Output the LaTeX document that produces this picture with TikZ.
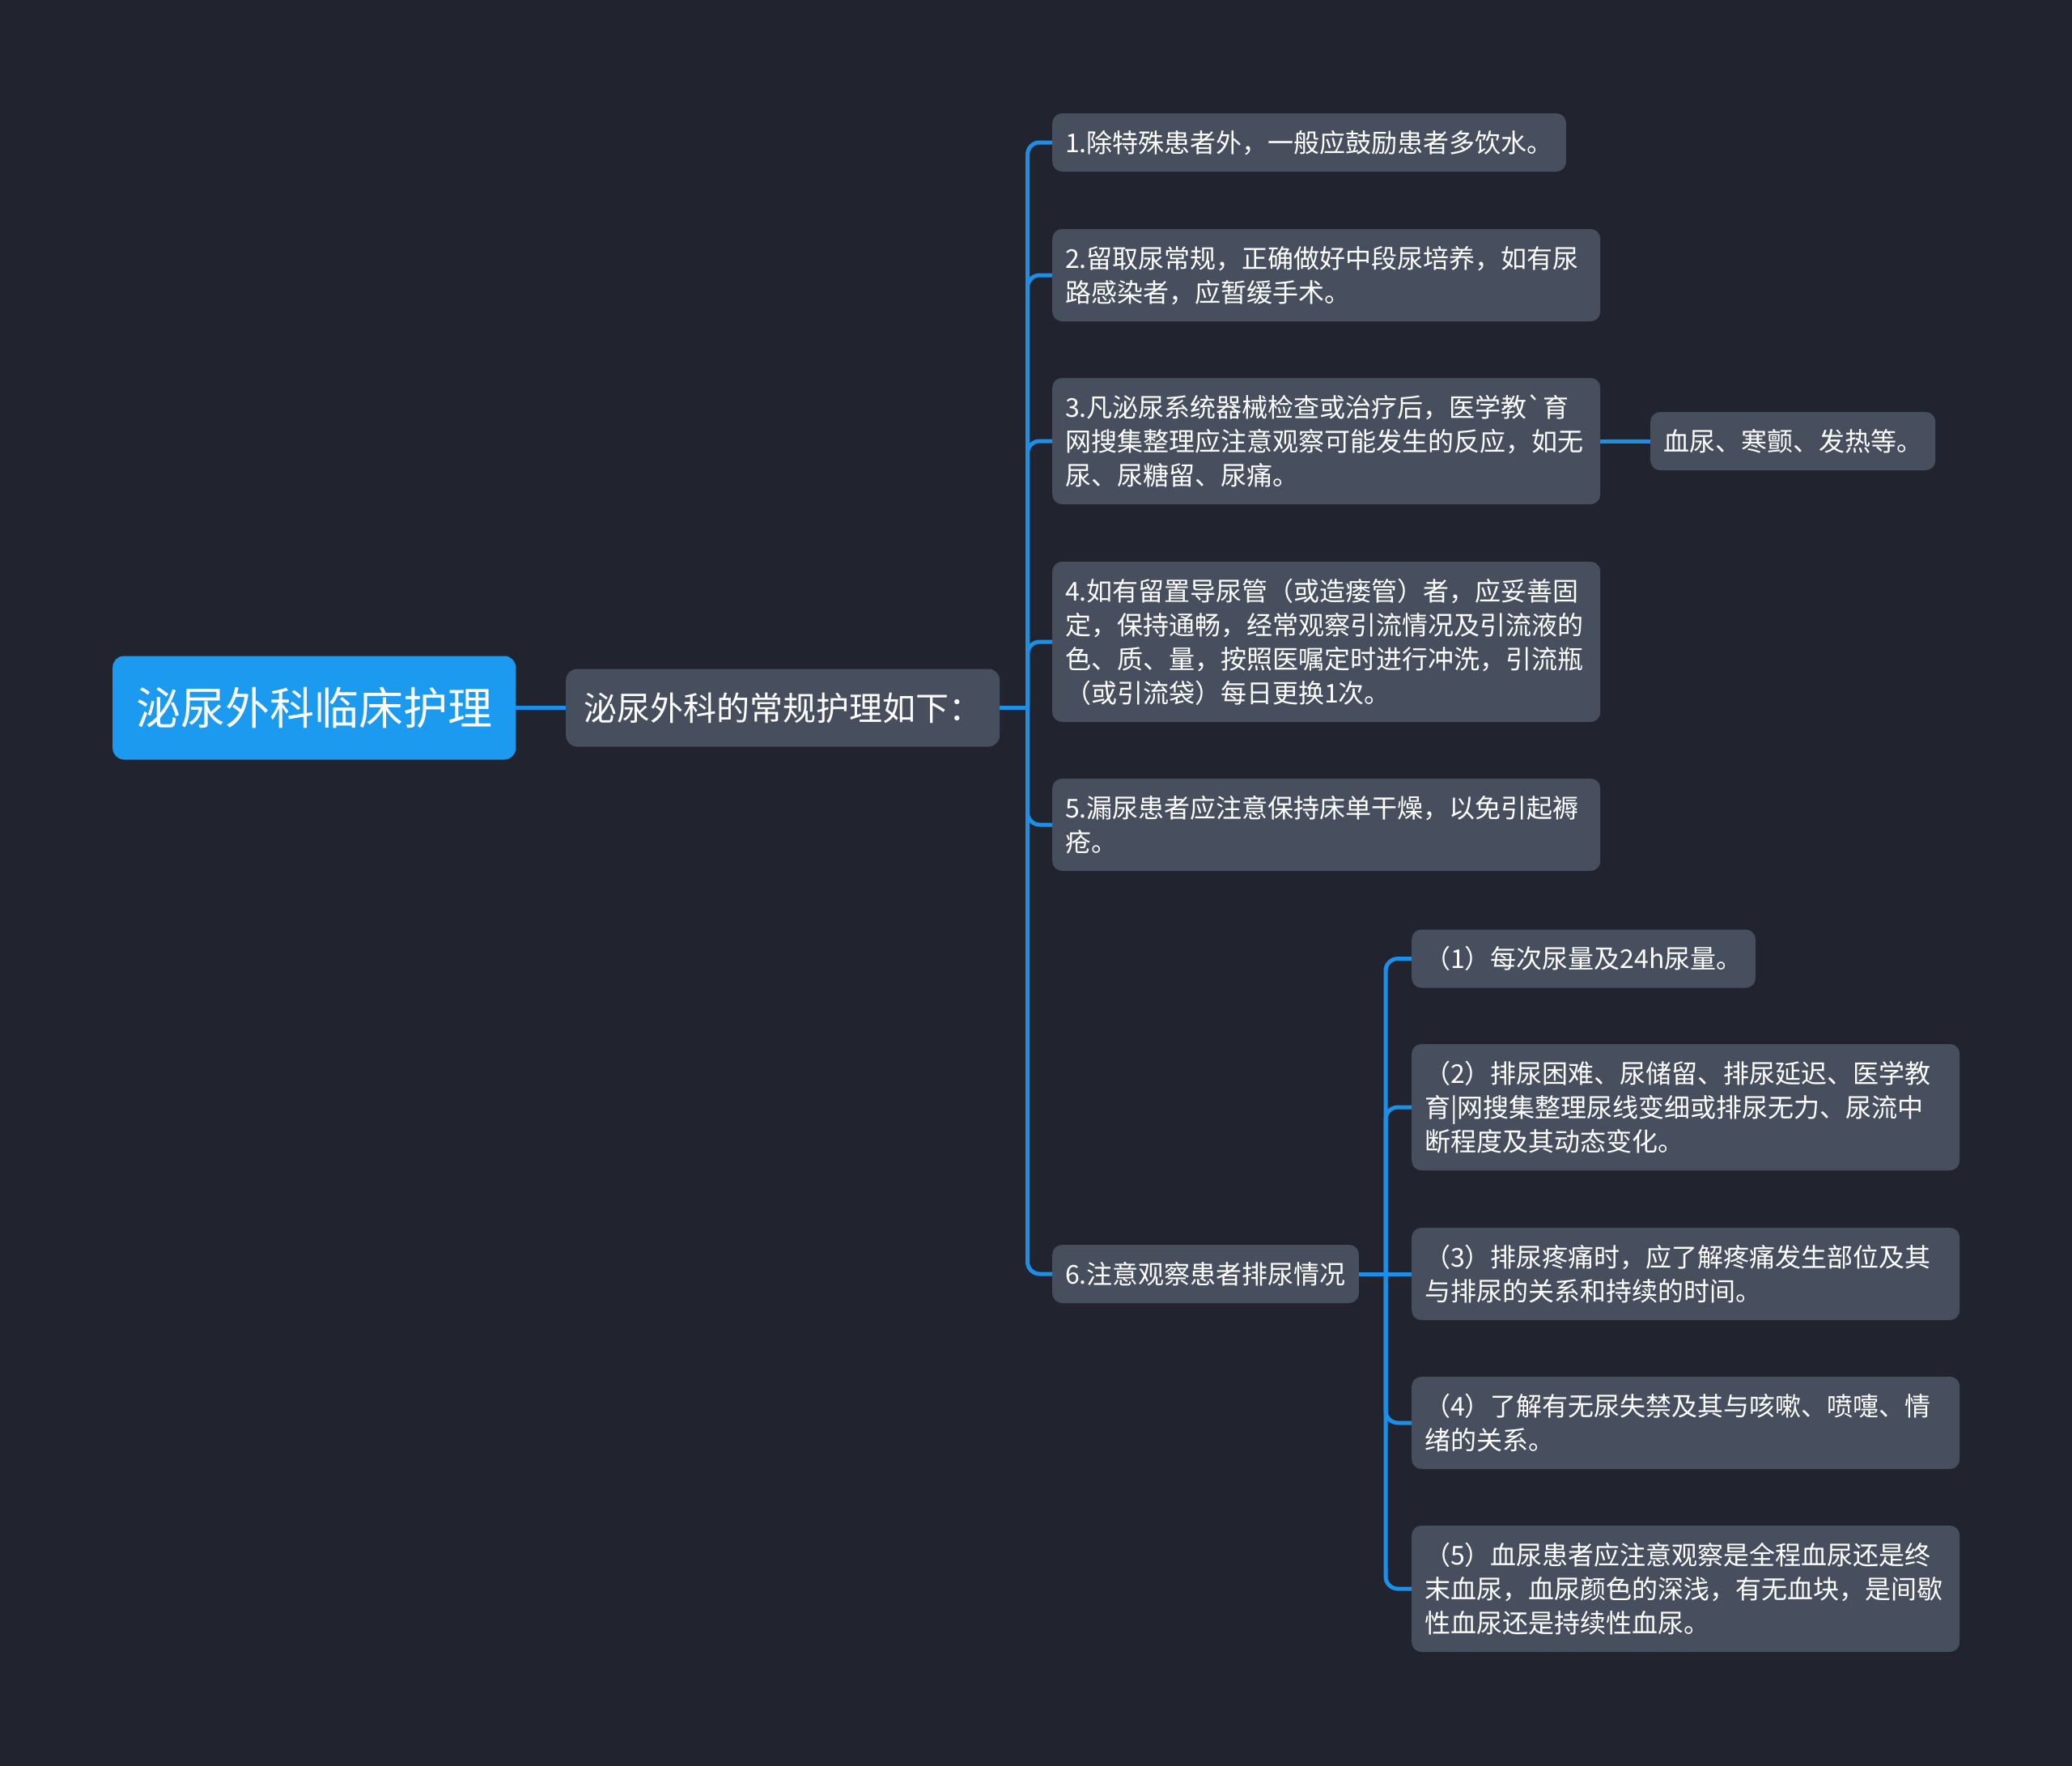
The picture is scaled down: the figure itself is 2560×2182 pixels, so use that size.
\documentclass[tikz,border=0pt]{standalone}
\usepackage{fontspec}
\setmainfont{Noto Sans CJK SC}
\definecolor{bg}{HTML}{21242F}
\definecolor{card}{HTML}{474F5F}
\definecolor{rootblue}{HTML}{1B9AF0}
\definecolor{linkblue}{HTML}{1D8FE6}
\newcommand\cstrut{\rule[-9pt]{0pt}{42pt}}
\begin{document}
\begin{tikzpicture}[x=1pt, y=-1pt,
  root/.style = {fill=rootblue, text=white, rounded corners=14pt, anchor=west, inner xsep=29pt, minimum height=128pt, font=\fontsize{55}{66}\selectfont},
  sub/.style = {fill=card, text=white, rounded corners=14pt, anchor=west, inner xsep=22pt, minimum height=96pt, font=\fontsize{41}{50}\selectfont},
  item/.style = {fill=card, text=white, rounded corners=12pt, anchor=west, inner xsep=16pt, inner ysep=15pt, align=left, font=\fontsize{32}{42}\selectfont, execute at begin node=\cstrut, execute at end node=\cstrut},
  wide/.style = {item, text width=645pt},
  link/.style = {draw=linkblue, line width=5pt, rounded corners=15pt}]
  \fill[bg] (0,0) rectangle (2560,2182);
  \useasboundingbox (0,0) rectangle (2560,2182);
  \node[root] (0) at (139,874.5) {泌尿外科临床护理};
  \node[sub] (1) at (699,874.5) {泌尿外科的常规护理如下：};
  \node[item] (11) at (1300,176) {1.除特殊患者外，一般应鼓励患者多饮水。};
  \node[wide] (12) at (1300,340) {2.留取尿常规，正确做好中段尿培养，如有尿\\路感染者，应暂缓手术。};
  \node[wide] (13) at (1300,545) {3.凡泌尿系统器械检查或治疗后，医学教\textasciigrave 育\\网搜集整理应注意观察可能发生的反应，如无\\尿、尿糖留、尿痛。};
  \node[wide] (14) at (1300,793) {4.如有留置导尿管（或造瘘管）者，应妥善固\\定，保持通畅，经常观察引流情况及引流液的\\色、质、量，按照医嘱定时进行冲洗，引流瓶\\（或引流袋）每日更换1次。};
  \node[wide] (15) at (1300,1019) {5.漏尿患者应注意保持床单干燥，以免引起褥\\疮。};
  \node[item] (16) at (1300,1574) {6.注意观察患者排尿情况};
  \node[item] (131) at (2039,545) {血尿、寒颤、发热等。};
  \node[item] (161) at (1744,1184.5) {（1）每次尿量及24h尿量。};
  \node[wide] (162) at (1744,1368) {（2）排尿困难、尿储留、排尿延迟、医学教\\育\textbar 网搜集整理尿线变细或排尿无力、尿流中\\断程度及其动态变化。};
  \node[wide] (163) at (1744,1574) {（3）排尿疼痛时，应了解疼痛发生部位及其\\与排尿的关系和持续的时间。};
  \node[wide] (164) at (1744,1758) {（4）了解有无尿失禁及其与咳嗽、喷嚏、情\\绪的关系。};
  \node[wide] (165) at (1744,1963) {（5）血尿患者应注意观察是全程血尿还是终\\末血尿，血尿颜色的深浅，有无血块，是间歇\\性血尿还是持续性血尿。};
  \coordinate (j1) at (1269.5,874.5);
  \coordinate (j6) at (1712,1574);
  \draw[link] (0) -- (1);
  \draw[link] (1) -- (j1);
  \foreach \n in {11,...,16} \draw[link] (j1) |- (\n.west);
  \draw[link] (13) -- (131);
  \draw[link] (16) -- (163);
  \foreach \n in {161,162,164,165} \draw[link] (j6) |- (\n.west);
\end{tikzpicture}
\end{document}
